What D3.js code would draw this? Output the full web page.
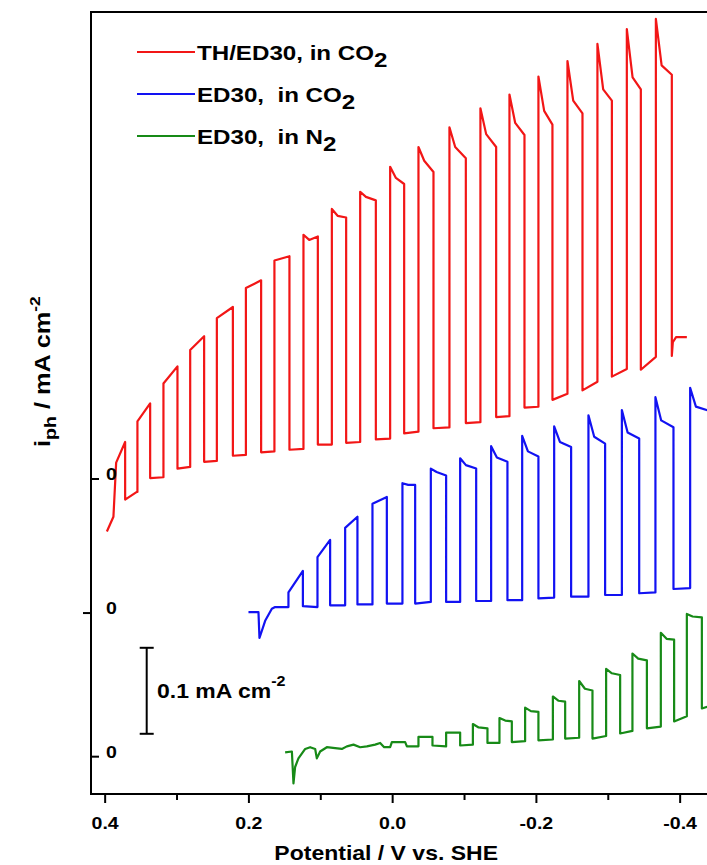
<!DOCTYPE html>
<html>
<head>
<meta charset="utf-8">
<script src="https://cdn.jsdelivr.net/npm/d3@7"></script>
<style>
  body { margin: 0; background: #fff; }
  svg { display: block; }
  text { font-family: "Liberation Sans", Arial, sans-serif; font-weight: bold; fill: #000; white-space: pre; }
</style>
</head>
<body>
<svg id="chart" width="707" height="865"></svg>
<script>
// potentials in V vs. SHE, currents in mA cm-2 (each trace has its own zero)
const seriesNames = ["TH/ED30, in CO", "ED30,  in CO", "ED30,  in N"];
const seriesSubs = ["2", "2", "2"];
const seriesColors = ["#f21616", "#1212f2", "#178a17"];
const seriesOffsets = [0.3663, 0.2104, 0.0434];

const xTicks = [0.4, 0.2, 0.0, -0.2, -0.4];
const xMinorTicks = [0.3, 0.1, -0.1, -0.3];

// TH/ED30 in CO2
const redLead = [[0.3969, -0.061], [0.3878, -0.044], [0.3840, 0.019], [0.3715, 0.043], [0.3715, -0.024], [0.3552, -0.015]];
const redOn = [0.3544, 0.3182, 0.2810, 0.2439, 0.2035, 0.1638, 0.1234, 0.0839, 0.0445, 0.0028, -0.0366, -0.0797, -0.1228, -0.1632, -0.2035, -0.2439, -0.2856, -0.3265, -0.3669];
const redOff = [0.3367, 0.2987, 0.2616, 0.2216, 0.1823, 0.1429, 0.1034, 0.0640, 0.0227, -0.0167, -0.0575, -0.1025, -0.1447, -0.1841, -0.2230, -0.2648, -0.3057, -0.3460, -0.3891];
const redPeak = [null, null, null, null, null, null, 0.284, 0.314, 0.334, 0.363, 0.386, 0.409, 0.431, 0.447, 0.468, 0.486, 0.506, 0.523, 0.535];
const redLight = [[0.067, 0.088], [0.111, 0.131], [0.150, 0.166], [0.187, 0.200], [0.222, 0.231], [0.254, 0.259], [0.278, 0.282], [0.306, 0.304], [0.328, 0.324], [0.350, 0.343], [0.370, 0.357], [0.386, 0.373], [0.401, 0.386], [0.414, 0.400], [0.428, 0.412], [0.440, 0.425], [0.453, 0.440], [0.467, 0.453], [0.481, 0.470]];
const redDark = [[0.001, 0.002], [0.012, 0.014], [0.020, 0.021], [0.027, 0.028], [0.031, 0.032], [0.034, 0.035], [0.040, 0.040], [0.042, 0.043], [0.046, 0.047], [0.053, 0.055], [0.059, 0.060], [0.065, 0.066], [0.072, 0.073], [0.083, 0.084], [0.092, 0.099], [0.103, 0.113], [0.119, 0.128], [0.127, 0.142], null];
const redTail = [[-0.3891, 0.143], [-0.3905, 0.159], [-0.3950, 0.165], [-0.4100, 0.165]];

// ED30 in CO2
const blueLead = [[0.1999, 0.001], [0.1860, 0.001], [0.1846, -0.029], [0.1767, -0.009], [0.1674, 0.005], [0.1628, 0.007], [0.1465, 0.007]];
const blueOn = [0.1443, 0.1039, 0.0654, 0.0274, -0.0143, -0.0538, -0.0946, -0.1377, -0.1809, -0.2254, -0.2731, -0.3196, -0.3663, -0.4146];
const blueOff = [0.1242, 0.0863, 0.0483, 0.0074, -0.0320, -0.0751, -0.1169, -0.1604, -0.2035, -0.2490, -0.2963, -0.3437, -0.3914, -0.4450];
const bluePeak = [null, null, null, null, 0.151, 0.168, 0.180, 0.194, 0.206, 0.217, 0.230, 0.236, 0.251, 0.262];
const blueLight = [[0.024, 0.049], [0.065, 0.085], [0.099, 0.112], [0.127, 0.135], [0.149, 0.149], [0.164, 0.160], [0.172, 0.168], [0.181, 0.176], [0.188, 0.182], [0.199, 0.193], [0.205, 0.197], [0.210, 0.203], [0.224, 0.216], [0.240, 0.234]];
const blueDark = [[0.008, 0.007], [0.009, 0.009], [0.010, 0.010], [0.011, 0.011], [0.011, 0.013], [0.013, 0.013], [0.014, 0.014], [0.015, 0.015], [0.017, 0.018], [0.019, 0.019], [0.021, 0.021], [0.023, 0.024], [0.028, 0.029], null];
const blueTail = [];

// ED30 in N2
const greenLead = [[0.1489, 0.005], [0.1395, 0.006], [0.1373, -0.031], [0.1350, -0.012], [0.1304, -0.002], [0.1210, 0.009], [0.1141, 0.011], [0.1071, 0.009], [0.1048, -0.002], [0.1002, 0.006], [0.0909, 0.011], [0.0793, 0.010], [0.0700, 0.009], [0.0630, 0.012], [0.0538, 0.014], [0.0445, 0.011], [0.0352, 0.012], [0.0237, 0.014], [0.0167, 0.016], [0.0111, 0.011], [0.0028, 0.011], [0.0004, 0.017], [-0.0181, 0.017], [-0.0205, 0.012], [-0.0344, 0.012]];
const greenOn = [-0.0366, -0.0751, -0.1123, -0.1493, -0.1850, -0.2236, -0.2602, -0.2977, -0.3343, -0.3738, -0.4100];
const greenOff = [-0.0561, -0.0946, -0.1326, -0.1665, -0.2035, -0.2407, -0.2787, -0.3172, -0.3544, -0.3923, -0.4309];
const greenPeak = [null, null, 0.038, 0.045, 0.057, 0.070, 0.088, 0.102, 0.120, 0.144, 0.166];
const greenLight = [[0.023, 0.023], [0.028, 0.028], [0.034, 0.033], [0.042, 0.041], [0.053, 0.052], [0.065, 0.064], [0.079, 0.077], [0.097, 0.095], [0.114, 0.112], [0.137, 0.136], [0.163, 0.162]];
const greenDark = [[0.013, 0.012], [0.013, 0.014], [0.016, 0.016], [0.017, 0.018], [0.019, 0.020], [0.021, 0.022], [0.021, 0.024], [0.027, 0.030], [0.033, 0.035], [0.041, 0.047], [0.056, 0.058]];
const greenTail = [[-0.4383, 0.058]];

const scaleBarValue = 0.1;
const scaleBarBase = 0.07;

const svg = d3.select("#chart");
const plot = { left: 91, top: 12, right: 712, bottom: 794 };
const DECAY = 0.008; // potential width of the light-on spike relaxation
const STRETCH = 1.15;

const x = d3.scaleLinear().domain([0.419, -0.445]).range([plot.left, plot.right]);
const y = d3.scaleLinear().domain([0, 0.9093]).range([plot.bottom, plot.top]);

function tracePoints(lead, on, off, peak, light, dark, tail) {
  const pts = lead.map((d) => d.slice());
  let prevDark = pts[pts.length - 1][1];
  on.forEach((v, k) => {
    pts.push([v, prevDark]);
    if (peak[k] != null) {
      pts.push([v, peak[k]]);
      pts.push([v - DECAY, light[k][0]]);
    } else {
      pts.push([v, light[k][0]]);
    }
    pts.push([off[k], light[k][1]]);
    if (dark[k]) {
      pts.push([off[k], dark[k][0]]);
      prevDark = dark[k][1];
      if (k < on.length - 1) pts.push([on[k + 1], prevDark]);
    }
  });
  return pts.concat(tail);
}

const traces = [
  tracePoints(redLead, redOn, redOff, redPeak, redLight, redDark, redTail),
  tracePoints(blueLead, blueOn, blueOff, bluePeak, blueLight, blueDark, blueTail),
  tracePoints(greenLead, greenOn, greenOff, greenPeak, greenLight, greenDark, greenTail),
];

svg.append("defs").append("clipPath").attr("id", "plot-clip")
  .append("rect")
  .attr("x", plot.left).attr("y", plot.top)
  .attr("width", plot.right - plot.left).attr("height", plot.bottom - plot.top);

const curves = svg.append("g").attr("clip-path", "url(#plot-clip)");
traces.forEach((pts, i) => {
  const line = d3.line()
    .x((d) => x(d[0]))
    .y((d) => y(d[1] + seriesOffsets[i]));
  curves.append("path")
    .attr("d", line(pts))
    .attr("fill", "none")
    .attr("stroke", seriesColors[i])
    .attr("stroke-width", 2.2)
    .attr("stroke-linejoin", "round");
});

// frame
svg.append("rect")
  .attr("x", plot.left).attr("y", plot.top)
  .attr("width", plot.right - plot.left).attr("height", plot.bottom - plot.top)
  .attr("fill", "none").attr("stroke", "#000").attr("stroke-width", 2);

// bottom axis
const xAxis = svg.append("g")
  .attr("transform", `translate(0,${plot.bottom})`)
  .call(d3.axisBottom(x).tickValues(xTicks).tickSize(9).tickSizeOuter(0).tickPadding(14)
    .tickFormat((d) => d.toFixed(1)));
xAxis.select(".domain").remove();
xAxis.selectAll("line").attr("stroke-width", 2);
xAxis.selectAll("text")
  .attr("font-size", 17).attr("font-family", null).attr("fill", "#000")
  .attr("transform", `scale(${STRETCH},1)`);

const xMinor = svg.append("g")
  .attr("transform", `translate(0,${plot.bottom})`)
  .call(d3.axisBottom(x).tickValues(xMinorTicks).tickSize(6).tickSizeOuter(0).tickFormat(""));
xMinor.select(".domain").remove();
xMinor.selectAll("line").attr("stroke-width", 2);

function stretchedText(g, px, py, size, anchor) {
  return g.append("g").attr("transform", `translate(${px},${py}) scale(${STRETCH},1)`)
    .append("text").attr("font-size", size).attr("text-anchor", anchor || "start");
}

stretchedText(svg, x(0.0) - 6, 860, 20, "middle").text("Potential / V vs. SHE");

// y axis: one zero tick per trace
const tickDir = [1, -1, 1];
seriesOffsets.forEach((off, i) => {
  svg.append("line")
    .attr("x1", plot.left).attr("x2", plot.left + tickDir[i] * 8)
    .attr("y1", y(off)).attr("y2", y(off))
    .attr("stroke", "#000").attr("stroke-width", 2);
  stretchedText(svg, 106, y(off) + 1, 17).text("0");
});

// y label
const yl = svg.append("g").attr("transform", `translate(50,447) rotate(-90) scale(${STRETCH},1)`)
  .append("text").attr("font-size", 22);
yl.append("tspan").text("i");
yl.append("tspan").attr("font-size", 17).attr("dy", 6).text("ph");
yl.append("tspan").attr("dy", -6).text(" / mA cm");
yl.append("tspan").attr("font-size", 15).attr("dy", -10).text("-2");

// scale bar
const barX = 146.7;
const barTop = y(scaleBarBase + scaleBarValue);
const barBottom = y(scaleBarBase);
const bar = svg.append("g").attr("stroke", "#000").attr("stroke-width", 2);
bar.append("line").attr("x1", barX).attr("x2", barX).attr("y1", barTop).attr("y2", barBottom);
bar.append("line").attr("x1", barX - 7).attr("x2", barX + 7).attr("y1", barTop).attr("y2", barTop);
bar.append("line").attr("x1", barX - 7).attr("x2", barX + 7).attr("y1", barBottom).attr("y2", barBottom);
const barLabel = stretchedText(svg, 157, (barTop + barBottom) / 2 + 7, 20);
barLabel.append("tspan").text(`${scaleBarValue} mA cm`);
barLabel.append("tspan").attr("font-size", 14).attr("dy", -12).text("-2");

// legend
const legendY = [52, 94, 136];
seriesNames.forEach((name, i) => {
  svg.append("line")
    .attr("x1", 137).attr("x2", 195)
    .attr("y1", legendY[i]).attr("y2", legendY[i])
    .attr("stroke", seriesColors[i]).attr("stroke-width", 2);
  const t = stretchedText(svg, 197, legendY[i] + 7.5, 21);
  t.append("tspan").text(name);
  t.append("tspan").attr("dy", 7).text(seriesSubs[i]);
});
</script>
</body>
</html>
